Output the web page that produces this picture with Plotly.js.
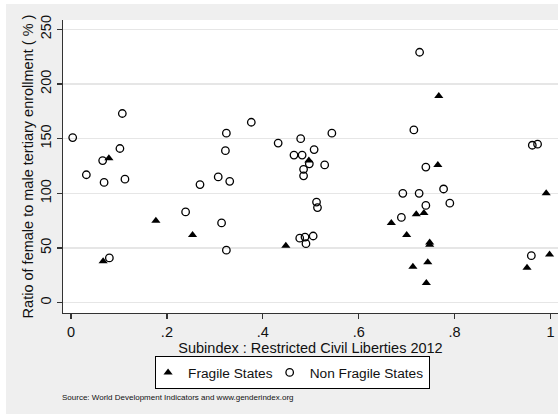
<!DOCTYPE html>
<html>
<head>
<meta charset="utf-8">
<script src="https://cdn.plot.ly/plotly-3.0.1.min.js"></script>
<style>
  html, body { margin: 0; padding: 0; background: #ffffff; }
  #chart { position: absolute; left: 6px; top: 4px; width: 552px; height: 410px; }
</style>
</head>
<body>
<div id="chart"></div>
<script>
// Fragile states
const fragileX = [0.079, 0.177, 0.2535, 0.067, 0.448, 0.496, 0.767, 0.765, 0.720, 0.736,
                  0.668, 0.700, 0.748, 0.748, 0.744, 0.713, 0.741, 0.991, 0.998, 0.951];
const fragileY = [132, 75, 62, 38, 52, 130, 189, 126, 81, 82,
                  73, 62, 55, 53, 37, 33, 18, 100, 44, 32];

// Non fragile states
const nonFragileX = [0.107, 0.0035, 0.102, 0.066, 0.032, 0.069, 0.1125, 0.080, 0.269, 0.239,
                     0.376, 0.324, 0.544, 0.432, 0.479, 0.322, 0.507, 0.465, 0.482, 0.497,
                     0.529, 0.485, 0.485, 0.307, 0.331, 0.512, 0.514, 0.314, 0.324, 0.477,
                     0.488, 0.505, 0.490, 0.727, 0.715, 0.740, 0.777, 0.692, 0.726, 0.790,
                     0.740, 0.689, 0.962, 0.973, 0.960];
const nonFragileY = [173, 151, 141, 130, 117, 110, 113, 41, 108, 83,
                     165, 155, 155, 146, 150, 139, 140, 135, 135, 127,
                     126, 122, 116, 115, 111, 92, 87, 73, 48, 59,
                     60, 61, 54, 229, 158, 124, 104, 100, 100, 91,
                     89, 78, 144, 145, 43];

const xTickVals = [0, 0.2, 0.4, 0.6, 0.8, 1];
const xTickText = ["0", ".2", ".4", ".6", ".8", "1"];
const yTickVals = [0, 50, 100, 150, 200, 250];

const font = "Liberation Sans, Arial, sans-serif";

const traces = [
  {
    type: "scatter", mode: "markers", name: "Fragile States",
    x: fragileX, y: fragileY,
    marker: { symbol: "triangle-up", size: 8, color: "#000000" }
  },
  {
    type: "scatter", mode: "markers", name: "Non Fragile States",
    x: nonFragileX, y: nonFragileY,
    marker: { symbol: "circle-open", size: 7.5, color: "#000000", line: { width: 1.3, color: "#000000" } }
  }
];

const layout = {
  width: 552, height: 410,
  margin: { l: 57, r: 0, t: 16, b: 101 },
  paper_bgcolor: "#efefef",
  plot_bgcolor: "#ffffff",
  font: { family: font, color: "#111111", size: 14.5 },
  showlegend: true,
  legend: {
    orientation: "h",
    x: 0.186, xanchor: "left",
    y: -0.1468, yanchor: "top",
    indentation: -8,
    bgcolor: "#ffffff", bordercolor: "#000000", borderwidth: 1,
    font: { family: font, size: 13.7, color: "#111111" }
  },
  xaxis: {
    range: [-0.0167, 1.0156],
    tickvals: xTickVals, ticktext: xTickText,
    ticks: "outside", ticklen: 5, tickwidth: 1.2, tickcolor: "#333333",
    showline: true, linecolor: "#333333", linewidth: 1.3,
    showgrid: false, zeroline: false,
    tickfont: { family: font, size: 14.5, color: "#111111" },
    title: { text: "Subindex : Restricted Civil Liberties 2012", standoff: 0,
             font: { family: font, size: 14.5, color: "#111111" } }
  },
  yaxis: {
    range: [-9.4, 258.5],
    tickvals: yTickVals,
    tickangle: -90,
    ticks: "outside", ticklen: 5, tickwidth: 1.2, tickcolor: "#333333",
    showline: true, linecolor: "#333333", linewidth: 1.3,
    showgrid: true, gridcolor: "#e6e6e6", gridwidth: 1.2,
    zeroline: false,
    tickfont: { family: font, size: 14.5, color: "#111111" },
    title: { text: "Ratio of female to male tertiary enrollment ( % )", standoff: 0,
             font: { family: font, size: 14.5, color: "#111111" } }
  },
  annotations: [
    {
      xref: "paper", yref: "paper", x: -0.006, y: -0.289,
      xanchor: "left", yanchor: "middle", showarrow: false,
      text: "Source: World Development Indicators and www.genderindex.org",
      font: { family: font, size: 8, color: "#111111" }
    }
  ]
};

Plotly.newPlot("chart", traces, layout, { displayModeBar: false, staticPlot: true });
</script>
</body>
</html>
